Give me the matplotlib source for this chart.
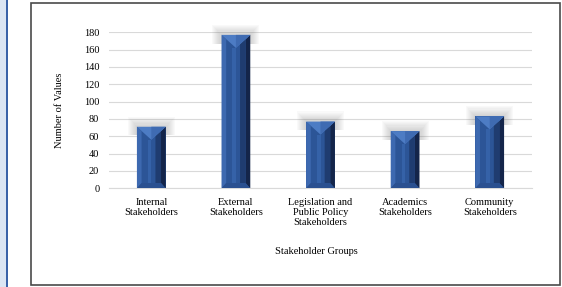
import matplotlib
matplotlib.use('Agg')
import matplotlib.pyplot as plt
from matplotlib.patches import Rectangle, Polygon
import numpy as np

# podaci
kategorije = ['Internal\nStakeholders', 'External\nStakeholders',
              'Legislation and\nPublic Policy\nStakeholders',
              'Academics\nStakeholders', 'Community\nStakeholders']
vrijednosti = [71, 177, 77, 66, 83]
y_ticks = [0, 20, 40, 60, 80, 100, 120, 140, 160, 180]

plt.rcParams['font.family'] = ['Liberation Serif', 'DejaVu Serif']
plt.rcParams['font.size'] = 7.5

fig = plt.figure(figsize=(5.62, 2.87), dpi=100)

# lijevi plavi rub stranice
fig.patches.append(Rectangle((0, 0), 6 / 562, 1, transform=fig.transFigure,
                             facecolor='#dbe5f3', edgecolor='none', zorder=-2))
fig.patches.append(Rectangle((6 / 562, 0), 2 / 562, 1, transform=fig.transFigure,
                             facecolor='#3a62a8', edgecolor='none', zorder=-2))
# okvir grafa
fig.patches.append(Rectangle((30.5 / 562, 2 / 287), 529.5 / 562, 282 / 287,
                             transform=fig.transFigure, facecolor='white',
                             edgecolor='#4a4a4a', linewidth=1.2, zorder=-1))

ax = fig.add_axes([109 / 562, 1 - 188.3 / 287, 423 / 562, 156 / 287])
ax.set_facecolor('none')

x = np.arange(len(kategorije))
sirina = 0.34
ax.set_xlim(-0.5, len(kategorije) - 0.5)
ax.set_ylim(0, 180)

# meka sjena iznad stupaca
for xi, v in zip(x, vrijednosti):
    for k in range(10):
        ax.add_patch(Rectangle((xi - sirina / 2 - 0.012 * k, v - 10),
                               sirina + 0.024 * k, 10 + 1.3 * k,
                               facecolor='#707070', alpha=0.035,
                               edgecolor='none', zorder=1, clip_on=False))

stupci = ax.bar(x, vrijednosti, width=sirina, color='#2c5597',
                edgecolor='none', zorder=2)

# 3D kosine na stupcima
bx = 0.055   # sirina kosine (podatkovne jedinice)
for bar in stupci:
    x0 = bar.get_x()
    w = bar.get_width()
    h = bar.get_height()
    x1 = x0 + w
    xm = x0 + w / 2
    dt = 15
    db = 6
    # lijeva kosina
    ax.add_patch(Polygon([(x0, 0), (x0 + bx, db), (x0 + bx, h - dt * 0.35), (x0, h)],
                         facecolor='#3d69b0', edgecolor='none', zorder=3))
    # desna kosina (tamna)
    ax.add_patch(Polygon([(x1, 0), (x1 - bx, db), (x1 - bx, h - dt * 0.35), (x1, h)],
                         facecolor='#14254a', edgecolor='none', zorder=3))
    ax.add_patch(Polygon([(x1 - bx, db), (x1 - bx * 2.2, db), (x1 - bx * 2.2, h - dt * 0.6),
                          (x1 - bx, h - dt * 0.35)],
                         facecolor='#1f3c70', edgecolor='none', zorder=3))
    # srednji svijetli pojas
    ax.add_patch(Rectangle((xm - w * 0.12, db), w * 0.12, h - db - dt,
                           facecolor='#3562a8', edgecolor='none', zorder=3))
    # donja kosina
    ax.add_patch(Polygon([(x0, 0), (x1, 0), (x1 - bx, db), (x0 + bx, db)],
                         facecolor='#2a5090', edgecolor='none', zorder=4))
    # gornji trokut
    ax.add_patch(Polygon([(x0, h), (x1, h), (xm, h - dt)],
                         facecolor='#4d7cc4', edgecolor='none', zorder=4))
    ax.add_patch(Polygon([(xm, h), (x1, h), (xm, h - dt)],
                         facecolor='#3f6bb2', edgecolor='none', zorder=4))

ax.set_yticks(y_ticks)
ax.set_xticks(x)
ax.set_xticklabels(kategorije, linespacing=1.15)
ax.grid(axis='y', color='#d9d9d9', linewidth=0.8, zorder=0)
ax.set_axisbelow(True)
for s in ['top', 'right', 'left']:
    ax.spines[s].set_visible(False)
ax.spines['bottom'].set_color('#d9d9d9')
ax.tick_params(axis='both', length=0, colors='black')
ax.tick_params(axis='x', pad=7)
ax.tick_params(axis='y', pad=7)

ax.set_ylabel('Number of Values', labelpad=14)
fig.text(316 / 562, 1 - 251.5 / 287, 'Stakeholder Groups', ha='center', va='center')

fig.savefig('out.png', dpi=100)
